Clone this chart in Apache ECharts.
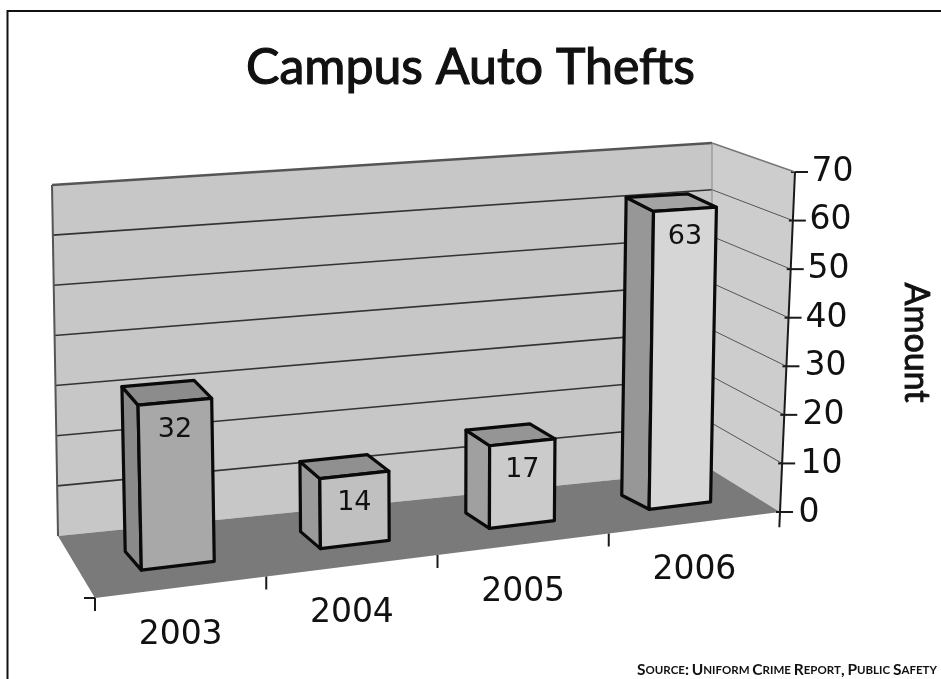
<!DOCTYPE html>
<html><head><meta charset="utf-8">
<script src="https://cdn.jsdelivr.net/npm/echarts@6/dist/echarts.min.js"></script>
<style>html,body{margin:0;padding:0;background:#fff}#c{width:941px;height:679px}</style>
</head><body><div id="c"></div>
<script>
// ---------- data ----------
const years = ['2003', '2004', '2005', '2006'];
const thefts = [32, 14, 17, 63];
const valueTicks = [0, 10, 20, 30, 40, 50, 60, 70];
const chartTitle = 'Campus Auto Thefts';
const axisName = 'Amount';
const sourceText = 'Source: Uniform Crime Report, Public Safety';

// ---------- styles ----------
const barFaces = [
  { front: '#a8a8a8', side: '#8a8a8a', top: '#8c8c8c' },
  { front: '#c0c0c0', side: '#9a9a9a', top: '#909090' },
  { front: '#cbcbcb', side: '#a0a0a0', top: '#959595' },
  { front: '#d6d6d6', side: '#979797', top: '#a4a4a4' }
];

// ---------- pseudo-3D projection of the flat grid ----------
const BOX = {
  FLB: [95, 598], FRB: [780, 512], FRT: [795, 172], FLT: [93, 248],
  BLB: [58, 536], BRB: [712, 470], BRT: [712, 143], BLT: [52, 185]
};
function lerp(p, q, t) { return [p[0] + (q[0] - p[0]) * t, p[1] + (q[1] - p[1]) * t]; }
function wallPt(a, b, w) {
  const f = lerp(lerp(BOX.FLB, BOX.FRB, a), lerp(BOX.FLT, BOX.FRT, a), b);
  const k = lerp(lerp(BOX.BLB, BOX.BRB, a), lerp(BOX.BLT, BOX.BRT, a), b);
  return lerp(f, k, w);
}
function barPt(a, b) {
  const den = 1 + 0.1208 * a;
  const x = (85.5 + 761.6 * a) / den;
  const y = 570 - 0.1197 * (x - 142);
  const h = b * 364 / den;
  const lean = b * (-8.4 + 16.1 * a);
  return [x + lean, y - h];
}
function barDepth(a) { return [-15 - 15 * a, -19 + 6 * a]; }
function add(p, d) { return [p[0] + d[0], p[1] + d[1]]; }

function fracA(cs, x) { return (x - cs.x) / cs.width; }
function fracB(cs, y) { return (cs.y + cs.height - y) / cs.height; }

function renderWalls(params, api) {
  const cs = params.coordSys;
  const ch = [];
  const poly = (pts, fill) => ch.push({ type: 'polygon', shape: { points: pts }, style: { fill: fill, stroke: null } });
  const line = (p, q, color, lw) => ch.push({ type: 'line', shape: { x1: p[0], y1: p[1], x2: q[0], y2: q[1] }, style: { stroke: color, lineWidth: lw } });
  poly([wallPt(0, 0, 1), wallPt(1, 0, 1), wallPt(1, 1, 1), wallPt(0, 1, 1)], '#c7c7c7');
  poly([wallPt(1, 0, 1), wallPt(1, 0, 0), wallPt(1, 1, 0), wallPt(1, 1, 1)], '#cdcdcd');
  poly([wallPt(0, 0, 0), wallPt(1, 0, 0), wallPt(1, 0, 1), wallPt(0, 0, 1)], '#7a7a7a');
  valueTicks.forEach(function (t) {
    const b = fracB(cs, api.coord([0, t])[1]);
    if (t > valueTicks[0] && t < valueTicks[valueTicks.length - 1]) {
      line(wallPt(0, b, 1), wallPt(1, b, 1), '#333', 1.6);
      line(wallPt(1, b, 1), wallPt(1, b, 0), '#555', 1);
    }
    const p = wallPt(1, b, 0);
    line(add(p, [-4, 0]), add(p, [13, 0]), '#1a1a1a', 2);
  });
  line(wallPt(0, 1, 1), wallPt(1, 1, 1), '#555', 2.5);
  line(wallPt(1, 1, 1), wallPt(1, 1, 0), '#777', 1.5);
  line(wallPt(0, 0, 1), wallPt(0, 1, 1), '#555', 2);
  line(wallPt(1, 0, 1), wallPt(1, 1, 1), '#888', 1);
  line(wallPt(1, -0.045, 0), wallPt(1, 1, 0), '#1a1a1a', 2);
  const n = years.length;
  for (let k = 0; k < n; k++) {
    const p = wallPt(k / n, 0, 0);
    line(p, add(p, [0, 13]), '#1a1a1a', 2);
  }
  const fl = wallPt(0, 0, 0);
  line(add(fl, [-11, 0]), fl, '#1a1a1a', 2);
  return { type: 'group', children: ch };
}

function renderBar(params, api) {
  const cs = params.coordSys;
  const i = api.value(0), v = api.value(1);
  const top = api.coord([i, v]);
  const base = api.coord([i, 0]);
  const half = api.size([1, 0])[0] * 0.2;
  const aL = fracA(cs, top[0] - half), aR = fracA(cs, top[0] + half);
  const bT = (base[1] - top[1]) / cs.height;
  const BL = barPt(aL, 0), BR = barPt(aR, 0), TL = barPt(aL, bT), TR = barPt(aR, bT);
  const dL = barDepth(aL), dR = barDepth(aR);
  const col = barFaces[i % barFaces.length];
  const st = (fill) => ({ fill: fill, stroke: '#0a0a0a', lineWidth: 3.2, lineJoin: 'round' });
  return {
    type: 'group',
    children: [
      { type: 'polygon', shape: { points: [TL, BL, add(BL, dL), add(TL, dL)] }, style: st(col.side) },
      { type: 'polygon', shape: { points: [TL, TR, add(TR, dR), add(TL, dL)] }, style: st(col.top) },
      { type: 'polygon', shape: { points: [BL, BR, TR, TL] }, style: st(col.front) },
      { type: 'text', x: (TL[0] + TR[0]) / 2, y: (TL[1] + TR[1]) / 2 + 28,
        style: { text: String(v), fontFamily: 'DejaVu Sans', fontSize: 27, fill: '#111', align: 'center', verticalAlign: 'middle' } }
    ]
  };
}

function renderCat(params, api) {
  const cs = params.coordSys;
  const i = api.value(0);
  const c = api.coord([i, 0]);
  const p = wallPt(fracA(cs, c[0]), 0, 0);
  return { type: 'text', x: p[0], y: p[1] + 48,
    style: { text: years[i], fontFamily: 'DejaVu Sans', fontSize: 33, fill: '#111', align: 'center', verticalAlign: 'middle' } };
}

function smallCaps(s) {
  let out = '';
  for (const chr of s) {
    if (chr >= 'a' && chr <= 'z') out += '{s|' + chr.toUpperCase() + '}';
    else if (chr === ' ') out += '{s| }';
    else out += '{b|' + chr + '}';
  }
  return out;
}

const labelRich = {};
valueTicks.forEach(function (t, k) {
  labelRich['p' + k] = { fontFamily: 'DejaVu Sans', fontSize: 33, color: '#111',
    padding: [0, 0, 0, Math.round(13 * k / (valueTicks.length - 1))] };
});

const chart = echarts.init(document.getElementById('c'), null, { renderer: 'canvas' });
chart.setOption({
  animation: false,
  backgroundColor: '#ffffff',
  graphic: [{ type: 'rect', shape: { x: 7.5, y: 11, width: 1000, height: 1000 }, style: { fill: null, stroke: '#111', lineWidth: 2 }, silent: true }],
  title: [
    { text: chartTitle, left: 'center', top: 38,
      textStyle: { fontFamily: 'Lato', fontSize: 50, fontWeight: 'normal', color: '#111',
        textBorderColor: '#111', textBorderWidth: 1.2 } },
    { text: smallCaps(sourceText), left: 632, top: 657,
      textStyle: { rich: {
        b: { fontFamily: 'Lato', fontWeight: 'bold', fontSize: 15.5, color: '#111' },
        s: { fontFamily: 'Lato', fontWeight: 'bold', fontSize: 11.5, color: '#111' } } } }
  ],
  grid: { left: 95, right: 154, top: 172, bottom: 166 },
  xAxis: { type: 'category', data: years, show: false },
  yAxis: {
    type: 'value', position: 'right', min: 0, max: 70, interval: 10,
    axisLine: { show: false }, axisTick: { show: false }, splitLine: { show: false },
    axisLabel: { margin: 13, align: 'left',
      formatter: function (val, idx) { return '{p' + idx + '|' + val + '}'; }, rich: labelRich },
    name: axisName, nameLocation: 'middle', nameRotate: -90, nameGap: 113,
    nameTextStyle: { fontFamily: 'Lato', fontSize: 34, fontWeight: 'normal', color: '#111',
      textBorderColor: '#111', textBorderWidth: 0.9 }
  },
  series: [
    { type: 'custom', z: 1, clip: false, renderItem: renderWalls, data: [[0, 0]], silent: true },
    { type: 'custom', z: 2, clip: false, renderItem: renderBar, data: thefts.map((v, i) => [i, v]), silent: true },
    { type: 'custom', z: 3, clip: false, renderItem: renderCat, data: years.map((y, i) => [i, 0]), silent: true }
  ]
});
</script>
</body></html>
